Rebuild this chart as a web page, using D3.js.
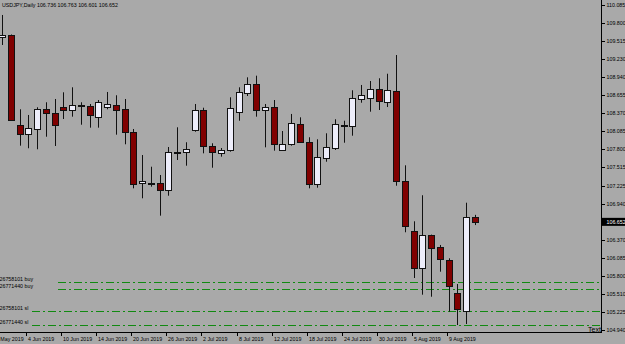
<!DOCTYPE html>
<html lang="en">
<head>
<style>
  body { margin: 0; background: #a9a9a9; }
  svg { display: block; }
  text { font-family: "Liberation Sans", Arial, sans-serif; }
</style>
</head>
<body>
<svg width="625" height="344"></svg>
<script src="https://cdn.jsdelivr.net/npm/d3@7/dist/d3.min.js"></script>
<script>
const svg = d3.select("svg");
const W = 625, H = 344;
const plotRight = 601, plotBottom = 332;

/************************************************************************************
* Data
************************************************************************************/
const symbol = "USDJPY,Daily";
const dates = [
  "30 May 2019", "31 May 2019",
  "3 Jun 2019", "4 Jun 2019", "5 Jun 2019", "6 Jun 2019", "7 Jun 2019",
  "10 Jun 2019", "11 Jun 2019", "12 Jun 2019", "13 Jun 2019", "14 Jun 2019",
  "17 Jun 2019", "18 Jun 2019", "19 Jun 2019", "20 Jun 2019", "21 Jun 2019",
  "24 Jun 2019", "25 Jun 2019", "26 Jun 2019", "27 Jun 2019", "28 Jun 2019",
  "1 Jul 2019", "2 Jul 2019", "3 Jul 2019", "4 Jul 2019", "5 Jul 2019",
  "8 Jul 2019", "9 Jul 2019", "10 Jul 2019", "11 Jul 2019", "12 Jul 2019",
  "15 Jul 2019", "16 Jul 2019", "17 Jul 2019", "18 Jul 2019", "19 Jul 2019",
  "22 Jul 2019", "23 Jul 2019", "24 Jul 2019", "25 Jul 2019", "26 Jul 2019",
  "29 Jul 2019", "30 Jul 2019", "31 Jul 2019", "1 Aug 2019", "2 Aug 2019",
  "5 Aug 2019", "6 Aug 2019", "7 Aug 2019", "8 Aug 2019", "9 Aug 2019",
  "12 Aug 2019", "13 Aug 2019", "14 Aug 2019"
];
const opens = [
  109.571, 109.610, 108.181, 108.038, 108.122, 108.434, 108.371, 108.466, 108.412, 108.497,
  108.481, 108.317, 108.459, 108.507, 108.439, 108.079, 107.256, 107.272, 107.263, 107.145,
  107.755, 107.753, 108.106, 108.423, 107.853, 107.737, 107.779, 108.386, 108.697, 108.834,
  108.428, 108.470, 107.794, 107.880, 108.201, 107.921, 107.263, 107.663, 107.821, 108.181,
  108.158, 108.608, 108.608, 108.755, 108.554, 108.724, 107.299, 106.507, 105.917, 106.444,
  106.249, 106.053, 105.521, 105.230, 106.736
];
const highs = [
  109.927, 109.618, 108.434, 108.344, 108.466, 108.545, 108.597, 108.703, 108.782, 108.545,
  108.518, 108.581, 108.708, 108.656, 108.597, 108.122, 107.710, 107.525, 107.394, 107.837,
  108.149, 107.912, 108.518, 108.459, 107.896, 107.821, 108.624, 108.782, 108.940, 108.966,
  108.518, 108.581, 108.090, 108.360, 108.307, 107.991, 107.959, 108.054, 108.276, 108.253,
  108.735, 108.819, 108.882, 108.925, 108.997, 109.293, 107.547, 106.661, 107.073, 106.450,
  106.286, 106.075, 105.668, 106.955, 106.763
];
const lows = [
  109.452, 108.249, 107.858, 107.817, 107.801, 108.000, 107.853, 108.280, 108.317, 108.190,
  108.143, 108.143, 108.434, 108.032, 107.880, 107.183, 107.025, 107.209, 106.750, 107.066,
  107.631, 107.541, 108.079, 107.737, 107.509, 107.684, 107.763, 108.253, 108.644, 108.317,
  107.832, 107.779, 107.779, 107.858, 107.916, 107.183, 107.193, 107.604, 107.790, 107.905,
  108.016, 108.538, 108.396, 108.423, 108.470, 107.224, 106.487, 105.763, 105.499, 105.467,
  105.863, 105.230, 105.019, 105.035, 106.601
];
const closes = [
  109.610, 108.265, 108.038, 108.133, 108.434, 108.375, 108.181, 108.412, 108.497, 108.475,
  108.333, 108.554, 108.513, 108.434, 108.079, 107.263, 107.294, 107.256, 107.145, 107.753,
  107.750, 107.805, 108.418, 107.853, 107.763, 107.790, 108.450, 108.703, 108.834, 108.428,
  108.475, 107.889, 107.885, 108.212, 107.921, 107.263, 107.684, 107.837, 108.196, 108.158,
  108.608, 108.665, 108.755, 108.565, 108.739, 107.304, 106.591, 105.922, 106.444, 106.243,
  106.053, 105.642, 105.262, 106.724, 106.652
];

// Price scale labels on the right
const priceTicks = [
  110.085, 109.800, 109.515, 109.230, 108.940, 108.655, 108.370, 108.085, 107.800,
  107.515, 107.225, 106.940, 106.370, 106.085, 105.800, 105.510, 105.225, 104.940
];
// Time scale labels (bar offsets from the first visible bar)
const timeLabels = [
  "29 May 2019", "4 Jun 2019", "10 Jun 2019", "14 Jun 2019", "20 Jun 2019", "26 Jun 2019",
  "2 Jul 2019", "8 Jul 2019", "12 Jul 2019", "18 Jul 2019", "24 Jul 2019", "30 Jul 2019",
  "5 Aug 2019", "9 Aug 2019"
];
const timeLabelBars = [-1, 3, 7, 11, 15, 19, 23, 27, 31, 35, 39, 43, 47, 51];

// Trade levels
const orderLabels = ["26758101 buy", "26771440 buy", "26758101 sl", "26771440 sl"];
const orderPrices = [105.700, 105.585, 105.241, 105.019];

const bars = dates.map((d, i) => ({
  i, date: d, open: opens[i], high: highs[i], low: lows[i], close: closes[i]
}));
const lastClose = closes[closes.length - 1];

/************************************************************************************
* Scales
************************************************************************************/
const x = d3.scaleLinear().domain([0, 54]).range([2, 475]);
const y = d3.scaleLinear().domain([104.94, 110.085]).range([330, 5]);

svg.append("rect").attr("width", W).attr("height", H).attr("fill", "#a9a9a9");

const defs = svg.append("defs");
defs.append("clipPath").attr("id", "plot")
  .append("rect").attr("x", 0).attr("y", 0).attr("width", plotRight).attr("height", plotBottom);

const plot = svg.append("g").attr("clip-path", "url(#plot)");

/************************************************************************************
* Trade levels
************************************************************************************/
const lineStart = [58, 58, 32, 32];
orderPrices.forEach((p, i) => {
  const yy = Math.round(y(p)) + 0.5;
  plot.append("line")
    .attr("x1", lineStart[i]).attr("x2", plotRight)
    .attr("y1", yy).attr("y2", yy)
    .attr("stroke", "#118a11").attr("stroke-width", 1)
    .attr("stroke-dasharray", "8,3,2,3");
  plot.append("text")
    .attr("x", -0.5).attr("y", yy - 1.5)
    .attr("font-size", 5.3).attr("fill", "#000")
    .text(orderLabels[i]);
});

/************************************************************************************
* Candles
************************************************************************************/
const candles = plot.selectAll("g.candle").data(bars).enter()
  .append("g").attr("class", "candle");

candles.append("line")
  .attr("x1", d => Math.round(x(d.i)) + 0.5)
  .attr("x2", d => Math.round(x(d.i)) + 0.5)
  .attr("y1", d => y(d.high))
  .attr("y2", d => y(d.low))
  .attr("stroke", "#111").attr("stroke-width", 1);

candles.append("rect")
  .attr("x", d => Math.round(x(d.i)) - 2.5)
  .attr("width", 6)
  .attr("y", d => Math.round(y(Math.max(d.open, d.close))) + 0.5)
  .attr("height", d => Math.max(1, Math.round(Math.abs(y(d.open) - y(d.close)))))
  .attr("fill", d => d.close >= d.open ? "#ededfa" : "#800000")
  .attr("stroke", "#111").attr("stroke-width", 1);

// "Text" object at the bottom right, clipped by the chart edge
plot.append("text")
  .attr("x", 588).attr("y", 332)
  .attr("font-size", 7).attr("fill", "#000")
  .text("Text");

/************************************************************************************
* Frame & axes
************************************************************************************/
svg.append("line")
  .attr("x1", plotRight + 0.5).attr("x2", plotRight + 0.5)
  .attr("y1", 0).attr("y2", plotBottom + 1)
  .attr("stroke", "#000");
svg.append("line")
  .attr("x1", 0).attr("x2", plotRight + 1)
  .attr("y1", plotBottom + 0.5).attr("y2", plotBottom + 0.5)
  .attr("stroke", "#000");

// Right price axis
const pAxis = svg.append("g");
priceTicks.forEach(p => {
  const yy = Math.round(y(p)) + 0.5;
  pAxis.append("line")
    .attr("x1", plotRight).attr("x2", plotRight + 4)
    .attr("y1", yy).attr("y2", yy).attr("stroke", "#000");
  pAxis.append("text")
    .attr("x", plotRight + 5.5).attr("y", yy)
    .attr("dy", "0.35em")
    .attr("font-size", 5.3).attr("fill", "#000")
    .text(d3.format(".3f")(p));
});

// Current price box
const yc = y(lastClose);
svg.append("rect")
  .attr("x", plotRight + 1).attr("y", yc - 4)
  .attr("width", W - plotRight - 1).attr("height", 8)
  .attr("fill", "#000");
svg.append("text")
  .attr("x", plotRight + 5.5).attr("y", yc)
  .attr("dy", "0.35em")
  .attr("font-size", 5.3).attr("fill", "#fff")
  .text(d3.format(".3f")(lastClose));

// Bottom time axis
const tAxis = svg.append("g");
timeLabels.forEach((lab, i) => {
  const cx = Math.round(x(timeLabelBars[i]));
  tAxis.append("line")
    .attr("x1", cx - 1.5).attr("x2", cx - 1.5)
    .attr("y1", plotBottom).attr("y2", plotBottom + 4)
    .attr("stroke", "#000");
  tAxis.append("text")
    .attr("x", cx).attr("y", 340.5)
    .attr("font-size", 5.3).attr("fill", "#000")
    .text(lab);
});

// Title
svg.append("text")
  .attr("x", 2).attr("y", 6.5)
  .attr("font-size", 5.3).attr("fill", "#000")
  .text(`${symbol}  ${opens[54].toFixed(3)} ${highs[54].toFixed(3)} ${lows[54].toFixed(3)} ${closes[54].toFixed(3)}`);
</script>
</body>
</html>
